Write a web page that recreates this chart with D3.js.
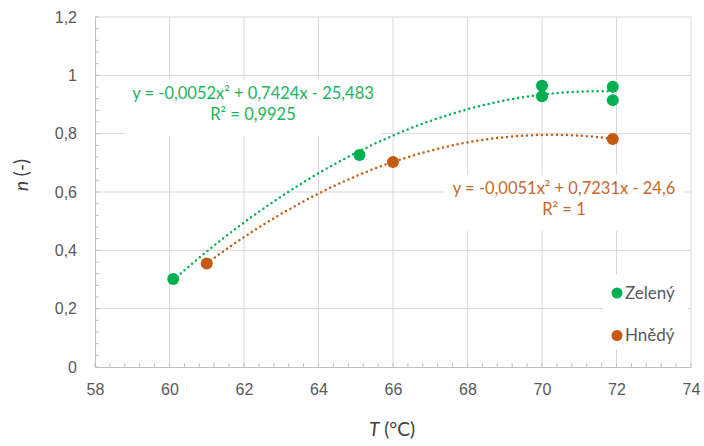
<!DOCTYPE html>
<html><head><meta charset="utf-8">
<script src="https://cdn.jsdelivr.net/npm/d3@7"></script>
<style>body{margin:0;background:#fff}svg{display:block;font-family:Lato,"Open Sans",sans-serif}</style>
</head><body><svg id="c" width="704" height="446"></svg>
<script>
const zelenyT = [60.1, 65.1, 70, 70, 71.9, 71.9];
const zelenyN = [0.302, 0.727, 0.964, 0.928, 0.961, 0.915];
const hnedyT = [61, 66, 71.9];
const hnedyN = [0.355, 0.703, 0.782];
const seriesNames = ["Zelený", "Hnědý"];
const eqZeleny = ["y = -0,0052x² + 0,7424x - 25,483", "R² = 0,9925"];
const eqHnedy = ["y = -0,0051x² + 0,7231x - 24,6", "R² = 1"];
const xTicks = [58, 60, 62, 64, 66, 68, 70, 72, 74];
const yTicks = [0, 0.2, 0.4, 0.6, 0.8, 1, 1.2];
const yTickLabels = ["0", "0,2", "0,4", "0,6", "0,8", "1", "1,2"];

const GREEN = "#00b050", BROWN = "#c55a11";
const svg = d3.select("#c");
const x = d3.scaleLinear().domain([58, 74]).range([95, 691]);
const y = d3.scaleLinear().domain([0, 1.2]).range([367, 17]);

// gridlines
svg.append("g").selectAll("line").data(xTicks.slice(1)).join("line")
  .attr("x1", d => x(d)).attr("x2", d => x(d)).attr("y1", y(0)).attr("y2", y(1.2))
  .attr("stroke", "#d9d9d9").attr("stroke-width", 1);
svg.append("g").selectAll("line").data(yTicks.slice(1)).join("line")
  .attr("x1", x(58)).attr("x2", x(74)).attr("y1", d => y(d)).attr("y2", d => y(d))
  .attr("stroke", "#d9d9d9").attr("stroke-width", 1);

// axes
const xAxis = svg.append("g").attr("transform", `translate(0,${y(0)})`)
  .call(d3.axisBottom(x).tickValues(xTicks).tickSize(0).tickPadding(17).tickFormat(d3.format("d")));
const yAxis = svg.append("g").attr("transform", `translate(${x(58)},0)`)
  .call(d3.axisLeft(y).tickValues(yTicks).tickSize(0).tickPadding(18).tickFormat((d, i) => yTickLabels[i]));
[xAxis, yAxis].forEach(g => {
  g.select(".domain").attr("stroke", "#bfbfbf");
  g.selectAll("text").attr("fill", "#595959").attr("font-size", 16);
});
// minor ticks
const xMinor = d3.range(58, 74.001, 0.4);
svg.append("g").selectAll("line").data(xMinor).join("line")
  .attr("x1", d => x(d)).attr("x2", d => x(d)).attr("y1", y(0)).attr("y2", y(0) - 4)
  .attr("stroke", "#bfbfbf");
const yMinor = d3.range(0, 1.2001, 0.04);
svg.append("g").selectAll("line").data(yMinor).join("line")
  .attr("x1", x(58)).attr("x2", x(58) + 4).attr("y1", d => y(d)).attr("y2", d => y(d))
  .attr("stroke", "#bfbfbf");

// quadratic least squares
function fit(xs, ys) {
  let S = [[0,0,0],[0,0,0],[0,0,0]], B = [0,0,0];
  xs.forEach((xv, i) => {
    const p = [1, xv, xv*xv];
    for (let r = 0; r < 3; r++) { B[r] += p[r]*ys[i]; for (let c = 0; c < 3; c++) S[r][c] += p[r]*p[c]; }
  });
  const M = S.map((row, i) => [...row, B[i]]);
  for (let i = 0; i < 3; i++) {
    let p = i; for (let k = i+1; k < 3; k++) if (Math.abs(M[k][i]) > Math.abs(M[p][i])) p = k;
    [M[i], M[p]] = [M[p], M[i]];
    for (let k = i+1; k < 3; k++) { const f = M[k][i]/M[i][i]; for (let c = i; c < 4; c++) M[k][c] -= f*M[i][c]; }
  }
  const sol = [0,0,0];
  for (let i = 2; i >= 0; i--) { let s = M[i][3]; for (let c = i+1; c < 3; c++) s -= M[i][c]*sol[c]; sol[i] = s/M[i][i]; }
  return t => sol[0] + sol[1]*t + sol[2]*t*t;
}
function trend(xs, ys, color) {
  const f = fit(xs, ys);
  const lo = d3.min(xs), hi = d3.max(xs);
  const pts = d3.range(0, 101).map(i => lo + (hi - lo) * i / 100);
  svg.append("path").datum(pts)
    .attr("d", d3.line().x(t => x(t)).y(t => y(f(t))))
    .attr("fill", "none").attr("stroke", color).attr("stroke-width", 2.5)
    .attr("stroke-dasharray", "0 5").attr("stroke-linecap", "round");
}
trend(zelenyT, zelenyN, GREEN);
trend(hnedyT, hnedyN, BROWN);

// points
function pts(xs, ys, color) {
  svg.append("g").selectAll("circle").data(xs).join("circle")
    .attr("cx", d => x(d)).attr("cy", (d, i) => y(ys[i])).attr("r", 6).attr("fill", color);
}
pts(zelenyT, zelenyN, GREEN);
pts(hnedyT, hnedyN, BROWN);

// equation labels with white boxes
function eqLabel(lines, cx, cy, w, color) {
  const g = svg.append("g");
  g.append("rect").attr("x", cx - w/2).attr("y", cy - 19).attr("width", w).attr("height", 56).attr("fill", "#fff");
  g.selectAll("text").data(lines).join("text")
    .attr("x", cx).attr("y", (d, i) => cy + i * 21).attr("text-anchor", "middle")
    .attr("font-size", 16.5).attr("fill", color).text(d => d);
}
eqLabel(eqZeleny, 253, 99, 256, "#21b35b");
eqLabel(eqHnedy, 564, 194, 240, "#c8682a");

// legend
const leg = svg.append("g");
leg.append("rect").attr("x", 603).attr("y", 274).attr("width", 85).attr("height", 76).attr("fill", "#fff");
[GREEN, BROWN].forEach((c, i) => {
  leg.append("circle").attr("cx", 617).attr("cy", 293 + i * 42.5).attr("r", 5.5).attr("fill", c);
  leg.append("text").attr("x", 625).attr("y", 298.5 + i * 42.5).attr("font-size", 17)
    .attr("fill", "#595959").text(seriesNames[i]);
});

// axis titles
const xt = svg.append("text").attr("x", 392).attr("y", 436).attr("text-anchor", "middle")
  .attr("font-size", 19).attr("fill", "#404040");
xt.append("tspan").attr("font-style", "italic").text("T");
xt.append("tspan").text(" (°C)");
const yt = svg.append("text").attr("transform", "translate(28,175) rotate(-90)").attr("text-anchor", "middle")
  .attr("font-size", 19).attr("fill", "#404040");
yt.append("tspan").attr("font-style", "italic").text("n");
yt.append("tspan").text(" (-)");
</script></body></html>
